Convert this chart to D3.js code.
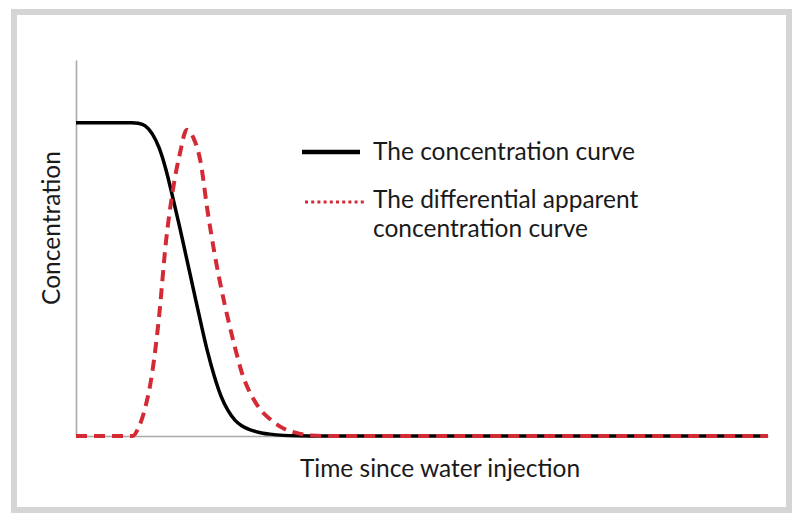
<!DOCTYPE html>
<html>
<head>
<meta charset="utf-8">
<script src="https://cdn.jsdelivr.net/npm/d3@7"></script>
<style>
  html, body { margin: 0; padding: 0; background: #ffffff; }
  svg { display: block; }
  text { font-family: Lato, "Open Sans", sans-serif; fill: #1a1a1a; }
</style>
</head>
<body>
<svg id="chart" width="800" height="520"></svg>
<script>
// ---- data ----
const concTime = [0, 8, 9, 10, 11, 12, 13, 14, 15, 16, 17, 18, 19, 20, 21, 22, 23, 24, 25, 26, 27, 28, 30, 32, 34, 100];
const concValue = [1.0, 1.0, 0.998, 0.99, 0.965, 0.92, 0.85, 0.76, 0.665, 0.565, 0.465, 0.365, 0.27, 0.19, 0.125, 0.08, 0.05, 0.032, 0.021, 0.014, 0.009, 0.006, 0.002, 0.0005, 0, 0];

const diffTime = [0, 8.2, 9, 10, 11, 12, 13, 14, 15, 16, 17, 18, 19, 20, 21, 22, 23, 24, 25, 26, 27, 28, 30, 32, 34, 36, 100];
const diffValue = [0, 0, 0.025, 0.09, 0.2, 0.38, 0.62, 0.785, 0.9, 0.977, 0.95, 0.875, 0.72, 0.585, 0.47, 0.37, 0.28, 0.2, 0.145, 0.105, 0.075, 0.055, 0.024, 0.009, 0.002, 0, 0];

const seriesNames = ["The concentration curve", ["The differential apparent", "concentration curve"]];
const xTitle = "Time since water injection";
const yTitle = "Concentration";

// ---- layout ----
const svg = d3.select("#chart");

// frame
svg.append("rect")
  .attr("x", 14).attr("y", 12).attr("width", 775).attr("height", 498)
  .attr("fill", "#ffffff").attr("stroke", "#d5d5d5").attr("stroke-width", 6);

const plot = { left: 76, right: 768, top: 60, bottom: 436 };

const x = d3.scaleLinear().domain([0, 100]).range([plot.left, plot.right]);
const y = d3.scaleLinear().domain([0, 1.2]).range([plot.bottom, plot.top]);

// axes (no ticks)
const xAxis = d3.axisBottom(x).tickValues([]).tickSize(0).tickSizeOuter(0);
const yAxis = d3.axisLeft(y).tickValues([]).tickSize(0).tickSizeOuter(0);
svg.append("g").attr("transform", `translate(0,${plot.bottom})`).call(xAxis)
  .select(".domain").attr("stroke", "#a8a8a8").attr("stroke-width", 1.6);
svg.append("g").attr("transform", `translate(${plot.left},0)`).call(yAxis)
  .select(".domain").attr("stroke", "#a8a8a8").attr("stroke-width", 1.6);

const conc = concTime.map((t, i) => ({ t, v: concValue[i] }));
const diff = diffTime.map((t, i) => ({ t, v: diffValue[i] }));

const line = d3.line().x(d => x(d.t)).y(d => y(d.v)).curve(d3.curveMonotoneX);

svg.append("path").datum(conc)
  .attr("d", line)
  .attr("fill", "none").attr("stroke", "#000000").attr("stroke-width", 3.5)
  .attr("stroke-linejoin", "round");

svg.append("path").datum(diff)
  .attr("d", line)
  .attr("fill", "none").attr("stroke", "#d42a36").attr("stroke-width", 4)
  .attr("stroke-dasharray", "11,7");

// legend
const fs = 24.5;
const lg = svg.append("g");
lg.append("line").attr("x1", 302).attr("x2", 360).attr("y1", 152).attr("y2", 152)
  .attr("stroke", "#000").attr("stroke-width", 4.5);
lg.append("text").attr("x", 373).attr("y", 160).attr("font-size", fs).text(seriesNames[0]);

lg.append("line").attr("x1", 305).attr("x2", 364).attr("y1", 202).attr("y2", 202)
  .attr("stroke", "#d42a36").attr("stroke-width", 3).attr("stroke-dasharray", "3,3.2");
const t2 = lg.append("text").attr("x", 373).attr("y", 208).attr("font-size", fs);
t2.append("tspan").attr("x", 373).text(seriesNames[1][0]);
t2.append("tspan").attr("x", 373).attr("dy", 29).text(seriesNames[1][1]);

// axis titles
svg.append("text").attr("x", 440).attr("y", 477).attr("text-anchor", "middle")
  .attr("font-size", fs).text(xTitle);
svg.append("text").attr("transform", "translate(60,228) rotate(-90)")
  .attr("text-anchor", "middle").attr("font-size", fs).text(yTitle);
</script>
</body>
</html>
